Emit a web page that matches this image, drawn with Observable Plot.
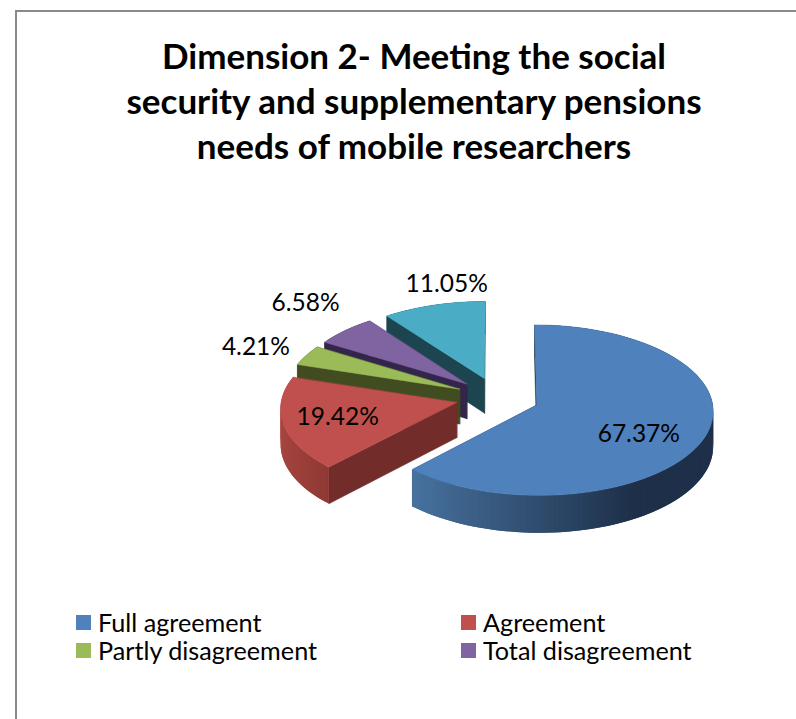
<!DOCTYPE html>
<html>
<head>
<meta charset="utf-8">
<script src="https://cdn.jsdelivr.net/npm/d3@7"></script>
<script src="https://cdn.jsdelivr.net/npm/@observablehq/plot@0.6"></script>
<style>
  html, body { margin: 0; padding: 0; background: #fff; }
  #chart { position: relative; width: 796px; height: 719px; overflow: hidden; font-family: Lato, sans-serif; color: #000; }
  #frame { position: absolute; left: 15px; top: 10px; width: 800px; height: 720px; border-left: 2px solid #8a8a8a; border-top: 2px solid #8a8a8a; box-sizing: border-box; }
  #title { position: absolute; left: 14px; width: 800px; top: 33px; text-align: center; font-weight: 700; font-size: 35px; line-height: 45px; }
  #pie { position: absolute; left: 0; top: 0; }
  .legend-item { position: absolute; font-size: 25.2px; line-height: 28px; white-space: nowrap; padding-left: 22px; }
  .legend-item i { position: absolute; left: 0; top: 7px; width: 15px; height: 15px; }
</style>
</head>
<body>
<div id="chart">
  <div id="frame"></div>
  <div id="pie"></div>
  <div id="title">Dimension 2- Meeting the social<br>security and supplementary pensions<br>needs of mobile researchers</div>
</div>
<script>
// Survey answers; the printed shares are what the slices are sized from.
const categories = ["Full agreement", "Agreement", "Partly disagreement", "Total disagreement", "No answer"];
const shares = [67.37, 19.42, 4.21, 6.58, 11.05];
const legendCategories = ["Full agreement", "Agreement", "Partly disagreement", "Total disagreement"];

// Face colours of each slice, and the shaded sides.
const topColors = ["#4f81bd", "#c0504d", "#9bbb59", "#8064a2", "#4bacc6"];
const cutColors = ["#1e3049", "#722d2b", "#414c20", "#33264a", "#1c4550"];
const wallLight = ["#47729f", "#a8443f", "#414c20", "#33264a", "#1c4550"];
const wallDark = ["#1e3049", "#8f3935", "#414c20", "#33264a", "#1c4550"];
const shadeFrom = [-0.69, -1, 0, 0, 0];
const shadeTo = [0.5, -0.69, 1, 1, 1];

// Label placement: distance along the slice's mid-angle, then a nudge in pixels.
const labelRadius = [0.63, 0.69, 1.26, 1.22, 1.3];
const labelNudgeX = [-3, 0, -11.5, -14, 27];
const labelNudgeY = [9, 0, 0, -16, 0];

// Tilted-disc projection with a little perspective.
const view = {cx: 497, cy: 397, rx: 175, ry: 84, k: 0.06, depth: 35, explode: 0.24};
const project = (u, v, drop = 0) => {
  const s = 1 + view.k * v;
  return [view.cx + view.rx * u / s, view.cy - view.ry * v / s + drop * view.depth / s];
};

const total = d3.sum(shares);
const toRad = (f) => f * 2 * Math.PI;
let running = 0;
const slices = shares.map((value, i) => {
  const a0 = toRad(running / total);
  running += value;
  const a1 = toRad(running / total);
  const mid = (a0 + a1) / 2;
  const apexU = view.explode * Math.sin(mid);
  const apexV = view.explode * Math.cos(mid);
  return {i, value, a0, a1, mid, apexU, apexV};
});

const rim = (s, a) => [s.apexU + Math.sin(a), s.apexV + Math.cos(a)];
const arcAngles = (s) => {
  const n = Math.max(2, Math.ceil((s.a1 - s.a0) / (Math.PI / 120)));
  return d3.range(n + 1).map((j) => s.a0 + (s.a1 - s.a0) * j / n);
};

// Flatten every visible face into rows of one polygon, back slices first.
const rows = [];
let polyId = 0;
const addPolygon = (points, fill, edge) => {
  const id = polyId++;
  for (const [x, y] of points) rows.push({id, x, y, fill, edge});
};
const drawOrder = [4, 3, 2, 1, 0];
for (const idx of drawOrder) {
  const s = slices[idx];
  const apex = [s.apexU, s.apexV];
  for (const a of [s.a0, s.a1]) {
    const r = rim(s, a);
    addPolygon([project(...apex), project(...r), project(...r, 1), project(...apex, 1)], cutColors[idx], 0.5);
  }
  const angles = arcAngles(s);
  for (let j = 0; j + 1 < angles.length; ++j) {
    // Each band reaches over the next one so no seams show through the shading.
    const p = rim(s, angles[j]);
    const q = rim(s, angles[Math.min(j + 2, angles.length - 1)]);
    const nx = Math.sin((angles[j] + angles[j + 1]) / 2);
    const t = Math.max(0, Math.min(1, (nx - shadeFrom[idx]) / (shadeTo[idx] - shadeFrom[idx])));
    addPolygon([project(...p), project(...q), project(...q, 1), project(...p, 1)], d3.interpolateRgb(wallLight[idx], wallDark[idx])(t), 0);
  }
  addPolygon([project(...apex), ...angles.map((a) => project(...rim(s, a)))], topColors[idx], 0.5);
}

const labels = slices.map((s) => {
  const r = labelRadius[s.i];
  const [x, y] = project(s.apexU + r * Math.sin(s.mid), s.apexV + r * Math.cos(s.mid));
  return {x: x + labelNudgeX[s.i], y: y + labelNudgeY[s.i], text: s.value.toFixed(2) + "%"};
});

const plot = Plot.plot({
  width: 796,
  height: 719,
  margin: 0,
  x: {domain: [0, 796], range: [0, 796], axis: null},
  y: {domain: [0, 719], range: [0, 719], axis: null},
  style: {background: "transparent", overflow: "visible"},
  marks: [
    Plot.line(rows, {x: "x", y: "y", z: "id", fill: "fill", stroke: "fill", strokeWidth: "edge", curve: "linear-closed"}),
    Plot.text(labels, {x: "x", y: "y", text: "text", fontSize: 24.5, fontFamily: "Lato, sans-serif", fill: "#000", textAnchor: "middle"})
  ]
});
document.getElementById("pie").appendChild(plot);

// Legend lays out two columns and two rows under the pie.
const chart = document.getElementById("chart");
const legendX = [76, 461];
const legendY = [608, 636];
legendCategories.forEach((name, i) => {
  const item = document.createElement("div");
  item.className = "legend-item";
  item.style.left = legendX[i % 2] + "px";
  item.style.top = legendY[Math.floor(i / 2)] + "px";
  const swatch = document.createElement("i");
  swatch.style.background = topColors[categories.indexOf(name)];
  item.appendChild(swatch);
  item.appendChild(document.createTextNode(name));
  chart.appendChild(item);
});
</script>
</body>
</html>
